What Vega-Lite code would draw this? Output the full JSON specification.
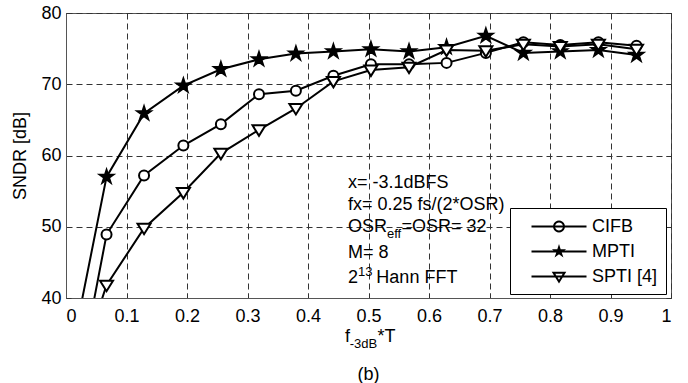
{
  "$schema": "https://vega.github.io/schema/vega-lite/v6.json",
  "width": 605,
  "height": 285,
  "autosize": {"type": "none"},
  "padding": {"left": 66, "top": 13, "right": 17, "bottom": 85},
  "background": "white",
  "config": {
    "view": {"stroke": "#555", "strokeWidth": 1},
    "font": "Liberation Sans",
    "axis": {
      "labelFont": "Liberation Sans", "labelFontSize": 18, "labelColor": "black",
      "titleFont": "Liberation Sans", "titleFontSize": 18, "titleFontWeight": "normal", "titleColor": "black",
      "tickColor": "#333", "domainColor": "#555", "gridColor": "#333", "gridDash": [6, 4],
      "gridOpacity": 1, "gridWidth": 1, "tickSize": -5
    }
  },
  "datasets": {
    "curves": [
      {"s": "CIFB", "x": 0.005, "y": 21.4}, {"s": "CIFB", "x": 0.067, "y": 48.9}, {"s": "CIFB", "x": 0.129, "y": 57.2},
      {"s": "CIFB", "x": 0.194, "y": 61.4}, {"s": "CIFB", "x": 0.256, "y": 64.4}, {"s": "CIFB", "x": 0.319, "y": 68.6},
      {"s": "CIFB", "x": 0.380, "y": 69.1}, {"s": "CIFB", "x": 0.442, "y": 71.2}, {"s": "CIFB", "x": 0.504, "y": 72.8},
      {"s": "CIFB", "x": 0.567, "y": 72.8}, {"s": "CIFB", "x": 0.629, "y": 73.0}, {"s": "CIFB", "x": 0.694, "y": 74.4},
      {"s": "CIFB", "x": 0.756, "y": 75.9}, {"s": "CIFB", "x": 0.817, "y": 75.5}, {"s": "CIFB", "x": 0.880, "y": 75.9},
      {"s": "CIFB", "x": 0.943, "y": 75.4},
      {"s": "MPTI", "x": 0.005, "y": 30.6}, {"s": "MPTI", "x": 0.067, "y": 57.0}, {"s": "MPTI", "x": 0.129, "y": 65.9},
      {"s": "MPTI", "x": 0.194, "y": 69.8}, {"s": "MPTI", "x": 0.256, "y": 72.1}, {"s": "MPTI", "x": 0.319, "y": 73.5},
      {"s": "MPTI", "x": 0.380, "y": 74.3}, {"s": "MPTI", "x": 0.442, "y": 74.6}, {"s": "MPTI", "x": 0.504, "y": 74.9},
      {"s": "MPTI", "x": 0.567, "y": 74.6}, {"s": "MPTI", "x": 0.629, "y": 75.2}, {"s": "MPTI", "x": 0.694, "y": 76.8},
      {"s": "MPTI", "x": 0.756, "y": 74.4}, {"s": "MPTI", "x": 0.817, "y": 74.6}, {"s": "MPTI", "x": 0.880, "y": 74.8},
      {"s": "MPTI", "x": 0.943, "y": 74.1},
      {"s": "SPTI [4]", "x": 0.005, "y": 25.9}, {"s": "SPTI [4]", "x": 0.067, "y": 41.8}, {"s": "SPTI [4]", "x": 0.129, "y": 49.8},
      {"s": "SPTI [4]", "x": 0.194, "y": 54.8}, {"s": "SPTI [4]", "x": 0.256, "y": 60.3}, {"s": "SPTI [4]", "x": 0.319, "y": 63.6},
      {"s": "SPTI [4]", "x": 0.380, "y": 66.6}, {"s": "SPTI [4]", "x": 0.442, "y": 70.4}, {"s": "SPTI [4]", "x": 0.504, "y": 72.0},
      {"s": "SPTI [4]", "x": 0.567, "y": 72.4}, {"s": "SPTI [4]", "x": 0.629, "y": 74.8}, {"s": "SPTI [4]", "x": 0.694, "y": 74.7},
      {"s": "SPTI [4]", "x": 0.756, "y": 75.6}, {"s": "SPTI [4]", "x": 0.817, "y": 75.3}, {"s": "SPTI [4]", "x": 0.880, "y": 75.6},
      {"s": "SPTI [4]", "x": 0.943, "y": 74.9}
    ],
    "notes": [
      {"t": "x= -3.1dBFS", "x": 0.466, "y": 55.44},
      {"t": "fx= 0.25 fs/(2*OSR)", "x": 0.466, "y": 52.35},
      {"t": "OSR", "x": 0.466, "y": 49.26},
      {"t": "=OSR= 32", "x": 0.5545, "y": 49.26},
      {"t": "M= 8", "x": 0.466, "y": 45.61},
      {"t": "2", "x": 0.466, "y": 42.1},
      {"t": "Hann FFT", "x": 0.513, "y": 42.1},
      {"t": "f", "x": 0.461, "y": 33.87},
      {"t": "*T", "x": 0.515, "y": 33.87}
    ],
    "subs": [
      {"t": "eff", "x": 0.5306, "y": 48.42},
      {"t": "13", "x": 0.4826, "y": 43.09},
      {"t": "-3dB", "x": 0.469, "y": 32.98}
    ],
    "cap": [
      {"t": "(b)", "x": 0.5, "y": 28.49}
    ]
  },
  "layer": [
    {
      "data": {"name": "curves"},
      "mark": {"type": "line", "color": "black", "strokeWidth": 2, "clip": true},
      "encoding": {
        "x": {"field": "x", "type": "quantitative", "scale": {"domain": [0, 1], "nice": false},
          "axis": {"orient": "bottom", "values": [0, 0.1, 0.2, 0.3, 0.4, 0.5, 0.6, 0.7, 0.8, 0.9, 1], "format": ".1~f", "title": null, "grid": true, "labelPadding": 14}},
        "y": {"field": "y", "type": "quantitative", "scale": {"domain": [40, 80], "nice": false},
          "axis": {"orient": "left", "values": [40, 50, 60, 70, 80], "title": "SNDR [dB]", "grid": true, "labelPadding": 10, "titlePadding": 11}},
        "detail": {"field": "s"}
      }
    },
    {
      "data": {"name": "curves"},
      "mark": {"type": "point", "filled": false, "size": 100, "stroke": "black", "strokeWidth": 2, "opacity": 1, "clip": true},
      "encoding": {
        "x": {"field": "x", "type": "quantitative", "scale": {"domain": [0, 1], "nice": false},
          "axis": {"orient": "top", "values": [0, 0.1, 0.2, 0.3, 0.4, 0.5, 0.6, 0.7, 0.8, 0.9, 1], "labels": false, "title": null, "grid": false, "domain": false}},
        "y": {"field": "y", "type": "quantitative", "scale": {"domain": [40, 80], "nice": false},
          "axis": {"orient": "right", "values": [40, 50, 60, 70, 80], "labels": false, "title": null, "grid": false, "domain": false}},
        "shape": {"field": "s", "type": "nominal",
          "scale": {"domain": ["CIFB", "MPTI", "SPTI [4]"], "range": ["circle", "M0,-1.4L0.3145,-0.433L1.331,-0.433L0.509,0.165L0.823,1.133L0,0.535L-0.823,1.133L-0.509,0.165L-1.331,-0.433L-0.3145,-0.433Z", "M-1.3,-0.9L1.3,-0.9L0,1.2Z"]},
          "legend": null},
        "fill": {"field": "s", "type": "nominal",
          "scale": {"domain": ["CIFB", "MPTI", "SPTI [4]"], "range": ["white", "black", "white"]},
          "legend": null}
      }
    },
    {
      "data": {"name": "curves"},
      "mark": {"type": "point", "filled": true, "color": "black", "opacity": 0, "size": 441, "clip": true},
      "encoding": {
        "x": {"field": "x", "type": "quantitative", "scale": {"domain": [0, 1], "nice": false}, "axis": null},
        "y": {"field": "y", "type": "quantitative", "scale": {"domain": [40, 80], "nice": false}, "axis": null},
        "shape": {"field": "s", "type": "nominal",
          "scale": {"domain": ["CIFB", "MPTI", "SPTI [4]"], "range": [
            "M-2.619,-0.0952L2.619,-0.0952L2.619,0.0952L-2.619,0.0952ZM0.571,0L0.543,0.177L0.462,0.336L0.336,0.462L0.177,0.543L0,0.571L-0.177,0.543L-0.336,0.462L-0.462,0.336L-0.543,0.177L-0.571,0L-0.543,-0.177L-0.462,-0.336L-0.336,-0.462L-0.177,-0.543L0,-0.571L0.177,-0.543L0.336,-0.462L0.462,-0.336L0.543,-0.177ZM0.381,0L0.362,-0.118L0.308,-0.224L0.224,-0.308L0.118,-0.362L0,-0.381L-0.118,-0.362L-0.224,-0.308L-0.308,-0.224L-0.362,-0.118L-0.381,0L-0.362,0.118L-0.308,0.224L-0.224,0.308L-0.118,0.362L0,0.381L0.118,0.362L0.224,0.308L0.308,0.224L0.362,0.118Z",
            "M-2.619,-0.0952L2.619,-0.0952L2.619,0.0952L-2.619,0.0952ZM0,-0.714L0.1605,-0.221L0.679,-0.221L0.2595,0.0843L0.42,0.578L0,0.273L-0.42,0.578L-0.2595,0.0843L-0.679,-0.221L-0.1605,-0.221Z",
            "M-2.619,-0.0952L2.619,-0.0952L2.619,0.0952L-2.619,0.0952ZM-0.694,-0.4595L0.694,-0.4595L0,0.6667ZM-0.3536,-0.269L0,0.3048L0.3536,-0.269Z"
          ]},
          "legend": {
            "orient": "none", "legendX": 444, "legendY": 195, "title": null, "direction": "vertical",
            "fillColor": "white", "strokeColor": "black", "padding": 8, "cornerRadius": 0,
            "symbolSize": 441, "symbolStrokeWidth": 0, "symbolFillColor": "black", "symbolOpacity": 1,
            "symbolOffset": 30.5, "labelOffset": 22.5, "labelFontSize": 18, "labelFont": "Liberation Sans", "labelColor": "black",
            "labelExpr": "datum.label + '  '",
            "rowPadding": 5
          }}
      }
    },
    {
      "data": {"name": "notes"},
      "mark": {"type": "text", "align": "left", "baseline": "alphabetic", "fontSize": 18, "font": "Liberation Sans", "color": "black"},
      "encoding": {
        "x": {"field": "x", "type": "quantitative", "scale": {"domain": [0, 1], "nice": false}, "axis": null},
        "y": {"field": "y", "type": "quantitative", "scale": {"domain": [40, 80], "nice": false}, "axis": null},
        "text": {"field": "t"}
      }
    },
    {
      "data": {"name": "subs"},
      "mark": {"type": "text", "align": "left", "baseline": "alphabetic", "fontSize": 13, "font": "Liberation Sans", "color": "black"},
      "encoding": {
        "x": {"field": "x", "type": "quantitative", "scale": {"domain": [0, 1], "nice": false}, "axis": null},
        "y": {"field": "y", "type": "quantitative", "scale": {"domain": [40, 80], "nice": false}, "axis": null},
        "text": {"field": "t"}
      }
    },
    {
      "data": {"name": "cap"},
      "mark": {"type": "text", "align": "center", "baseline": "alphabetic", "fontSize": 18, "font": "Liberation Sans", "color": "black"},
      "encoding": {
        "x": {"field": "x", "type": "quantitative", "scale": {"domain": [0, 1], "nice": false}, "axis": null},
        "y": {"field": "y", "type": "quantitative", "scale": {"domain": [40, 80], "nice": false}, "axis": null},
        "text": {"field": "t"}
      }
    }
  ],
  "resolve": {"axis": {"x": "independent", "y": "independent"}, "scale": {"shape": "independent"}, "legend": {"shape": "independent"}}
}
